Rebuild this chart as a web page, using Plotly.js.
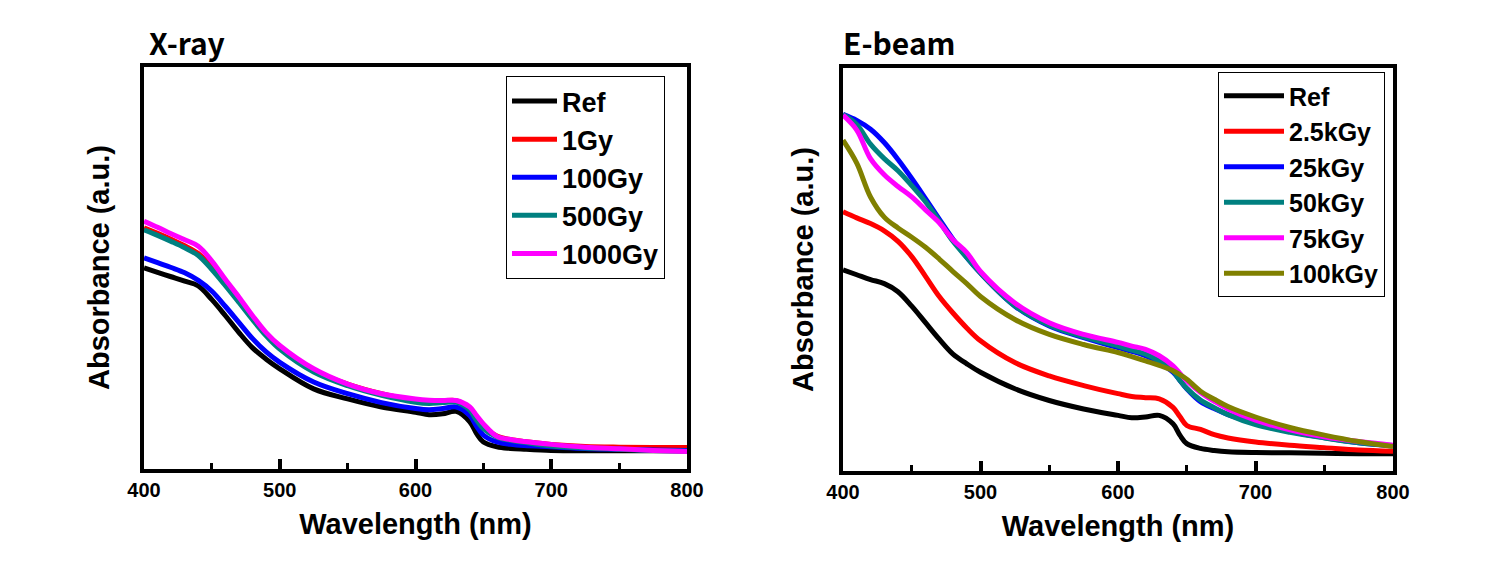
<!DOCTYPE html>
<html>
<head>
<meta charset="utf-8">
<script src="https://cdn.plot.ly/plotly-3.0.1.min.js"></script>
<style>html,body{margin:0;padding:0;background:#fff;}#chart{width:1507px;height:566px;}</style>
</head>
<body>
<div id="chart"></div>
<script>
// Wavelength grid (nm)
const wavelength = [400,410,420,430,440,450,460,470,480,490,500,525,550,575,600,610,620,630,640,645,650,660,670,680,700,725,750,775,800];

// X-ray panel (absorbance, arbitrary units)
const xrayNames = ["Ref","1Gy","100Gy","500Gy","1000Gy"];
const xrayRef    = [49.9,48.8,47.7,46.6,45.4,42.0,38.0,33.8,30.0,27.2,24.8,19.8,17.3,15.3,14.0,13.4,13.6,14.2,11.6,8.7,6.6,5.4,5.0,4.8,4.5,4.4,4.4,4.4,4.4];
const xray1Gy    = [59.9,58.5,57.0,55.4,53.5,50.0,46.0,41.8,37.5,33.5,30.1,24.4,21.0,18.6,16.9,16.6,16.8,16.9,14.9,12.4,10.3,8.1,7.2,6.7,6.0,5.5,5.3,5.2,5.2];
const xray100Gy  = [52.4,51.2,50.0,48.7,46.8,44.1,40.3,36.3,32.3,29.0,26.4,21.5,18.6,16.4,14.9,14.6,14.9,15.3,13.2,10.5,8.3,6.6,6.0,5.7,5.4,5.0,4.8,4.6,4.5];
const xray500Gy  = [59.4,58.0,56.5,54.9,53.0,49.5,45.5,41.3,37.0,33.0,29.7,24.0,20.6,18.2,16.5,16.2,16.4,16.5,14.5,12.0,9.9,7.8,7.0,6.5,5.6,5.1,4.8,4.5,4.3];
const xray1000Gy = [61.5,60.0,58.4,56.9,55.3,51.6,47.0,42.6,38.0,33.8,30.6,24.8,21.0,18.6,17.3,17.0,16.9,16.9,15.3,13.2,11.1,8.0,7.2,6.7,6.0,5.3,4.9,4.5,4.2];

// E-beam panel (absorbance, arbitrary units)
const ebeamNames = ["Ref","2.5kGy","25kGy","50kGy","75kGy","100kGy"];
const ebRef    = [49.9,48.7,47.5,46.5,44.5,40.9,36.8,32.7,29.0,26.6,24.5,20.4,17.5,15.4,13.8,13.2,13.4,13.8,11.7,8.9,6.8,5.6,5.1,4.8,4.6,4.5,4.4,4.3,4.3];
const eb2p5kGy = [64.3,62.8,61.4,59.6,57.0,53.2,48.3,43.3,39.2,35.5,32.3,26.9,23.6,21.2,19.2,18.5,18.2,17.9,15.8,13.5,11.3,10.3,9.0,8.2,7.2,6.4,5.8,5.2,4.9];
const eb25kGy  = [88.5,87.0,84.8,81.5,77.3,72.6,67.6,62.5,57.5,53.0,49.1,40.9,36.0,33.1,30.6,29.7,28.6,26.9,24.5,22.5,20.4,17.2,15.5,14.0,11.9,9.8,8.3,7.0,6.2];
const eb50kGy  = [88.5,86.0,81.1,77.5,74.5,70.8,66.8,62.0,57.0,53.0,49.1,41.0,36.2,33.3,31.0,30.0,29.0,27.3,24.8,22.5,20.5,17.6,15.7,14.0,11.5,9.6,8.2,7.0,6.3];
const eb75kGy  = [88.3,84.6,77.5,73.5,70.6,68.0,64.8,61.6,57.4,54.2,49.5,41.7,36.8,33.9,31.9,31.0,30.2,28.6,26.1,24.2,22.4,19.5,17.3,15.4,12.6,10.2,8.5,7.3,6.4];
const eb100kGy = [82.1,76.4,68.0,63.0,60.3,58.0,55.5,52.6,49.5,46.5,43.3,37.6,33.9,31.4,29.4,28.4,27.3,26.2,24.9,23.9,22.8,19.8,17.8,16.0,13.4,10.8,8.9,7.3,6.1];

const xrayColors  = ["#000000","#ff0000","#0000ff","#008080","#ff00ff"];
const ebeamColors = ["#000000","#ff0000","#0000ff","#008080","#ff00ff","#808000"];

const xraySeries  = [xrayRef, xray1Gy, xray100Gy, xray500Gy, xray1000Gy];
const ebeamSeries = [ebRef, eb2p5kGy, eb25kGy, eb50kGy, eb75kGy, eb100kGy];

const traces = [];
xraySeries.forEach((ys, i) => traces.push({
  x: wavelength, y: ys, name: xrayNames[i], type: 'scatter', mode: 'lines',
  line: {color: xrayColors[i], width: 5, shape: 'spline', smoothing: 1},
  xaxis: 'x', yaxis: 'y', legend: 'legend'
}));
ebeamSeries.forEach((ys, i) => traces.push({
  x: wavelength, y: ys, name: ebeamNames[i], type: 'scatter', mode: 'lines',
  line: {color: ebeamColors[i], width: 5, shape: 'spline', smoothing: 1},
  xaxis: 'x2', yaxis: 'y2', legend: 'legend2'
}));
// empty helper traces so the overlay tick-only axes are drawn
traces.push({x: [], y: [], xaxis: 'x3', yaxis: 'y', showlegend: false, hoverinfo: 'skip', type: 'scatter', mode: 'lines'});
traces.push({x: [], y: [], xaxis: 'x4', yaxis: 'y2', showlegend: false, hoverinfo: 'skip', type: 'scatter', mode: 'lines'});

const W = 1507, H = 566;
const lab = {family: 'Liberation Sans, Arial, sans-serif', color: '#000', weight: 'bold'};

function xax(d) {
  return {
    domain: d, range: [400, 800], dtick: 100,
    showgrid: false, zeroline: false,
    showline: true, linecolor: '#000', linewidth: 4, mirror: true,
    ticks: 'inside', ticklen: 10, tickwidth: 4, tickcolor: '#000',
    minor: {dtick: 50, ticks: 'inside', ticklen: 6, tickwidth: 3, tickcolor: '#000'},
    tickfont: Object.assign({}, lab, {size: 20}),
    title: {text: 'Wavelength (nm)', font: Object.assign({}, lab, {size: 29}), standoff: 15},
    automargin: false
  };
}
// tick-only overlay axis for the major ticks (100 nm)
function tickAx(over, anchor) {
  return {
    overlaying: over, anchor: anchor, side: 'bottom', range: [400, 800], dtick: 100,
    showline: false, showgrid: false, zeroline: false, showticklabels: false,
    ticks: 'inside', ticklen: 10, tickwidth: 4, tickcolor: '#000'
  };
}
function yax(d, anchor, so) {
  return {
    domain: d, range: [0, 100], anchor: anchor,
    showgrid: false, zeroline: false, showticklabels: false, ticks: '',
    showline: true, linecolor: '#000', linewidth: 4, mirror: true,
    title: {text: 'Absorbance (a.u.)', font: Object.assign({}, lab, {size: 29}), standoff: so},
    automargin: false
  };
}

const layout = {
  width: W, height: H,
  margin: {l: 0, r: 0, t: 0, b: 0},
  paper_bgcolor: '#fff', plot_bgcolor: '#fff',
  xaxis: Object.assign(xax([144/W, 687/W]), {anchor: 'y'}),
  yaxis: yax([1 - 468.5/H, 1 - 66.5/H], 'x', 23),
  xaxis2: Object.assign(xax([843/W, 1393/W]), {anchor: 'y2'}),
  yaxis2: yax([1 - 471/H, 1 - 68/H], 'x2', 18),
  xaxis3: tickAx('x', 'y'),
  xaxis4: tickAx('x2', 'y2'),
  legend: {
    x: 506/W, y: 1 - 76/H, xanchor: 'left', yanchor: 'top',
    bordercolor: '#000', borderwidth: 1, bgcolor: '#fff',
    font: Object.assign({}, lab, {size: 27}), itemwidth: 45, tracegroupgap: 0
  },
  legend2: {
    x: 1218/W, y: 1 - 72/H, xanchor: 'left', yanchor: 'top',
    bordercolor: '#000', borderwidth: 1, bgcolor: '#fff',
    font: Object.assign({}, lab, {size: 25}), itemwidth: 60, tracegroupgap: 0
  },
  annotations: [
    {text: 'X-ray', xref: 'paper', yref: 'paper', x: 147/W, y: 1 - 42/H, xanchor: 'left', yanchor: 'middle', showarrow: false,
     font: {family: 'Noto Sans CJK KR, Noto Sans, sans-serif', size: 30, color: '#000', weight: 'bold'}},
    {text: 'E-beam', xref: 'paper', yref: 'paper', x: 841/W, y: 1 - 42/H, xanchor: 'left', yanchor: 'middle', showarrow: false,
     font: {family: 'Noto Sans CJK KR, Noto Sans, sans-serif', size: 30, color: '#000', weight: 'bold'}}
  ],
  showlegend: true
};

Plotly.newPlot('chart', traces, layout, {displayModeBar: false, staticPlot: true});
</script>
</body>
</html>
